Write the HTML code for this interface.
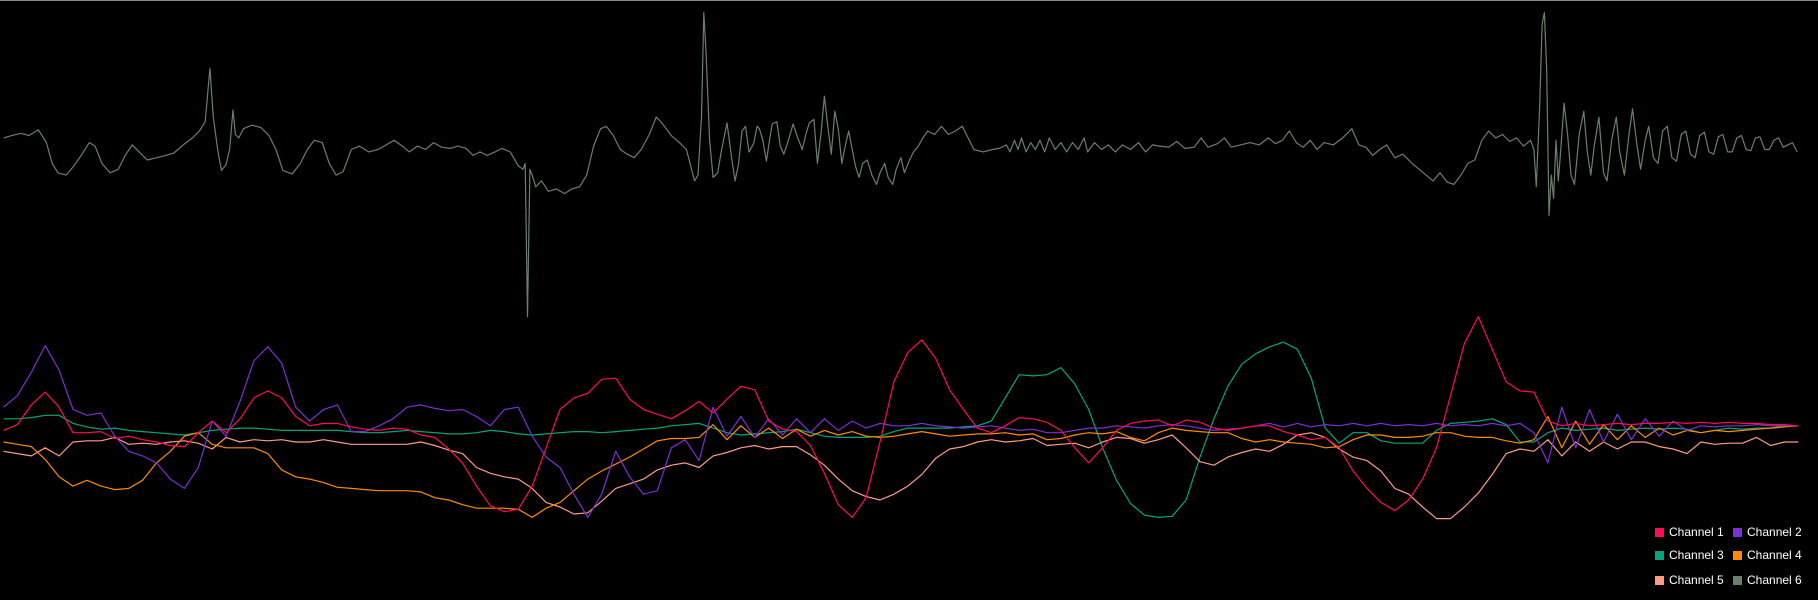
<!DOCTYPE html>
<html><head><meta charset="utf-8"><style>
html,body{margin:0;padding:0;background:#000;}
#wrap{position:relative;width:1818px;height:600px;background:#000;overflow:hidden;border-top:1px solid #8a8a8a;box-sizing:border-box;}
svg{position:absolute;left:0;top:0;}
.leg{position:absolute;font:12px "Liberation Sans",sans-serif;color:#fff;white-space:nowrap;line-height:14px;}
.sw{display:inline-block;width:9px;height:9px;margin-right:5px;vertical-align:-1px;}
</style></head><body>
<div id="wrap">
<svg id="chart" width="1818" height="600"></svg>
<div class="leg" style="left:1655px;top:524px"><span class="sw" style="background:#ff0a54"></span>Channel 1</div>
<div class="leg" style="left:1733px;top:524px"><span class="sw" style="background:#7b2fd6"></span>Channel 2</div>
<div class="leg" style="left:1655px;top:547px"><span class="sw" style="background:#00a77a"></span>Channel 3</div>
<div class="leg" style="left:1733px;top:547px"><span class="sw" style="background:#ff8a00"></span>Channel 4</div>
<div class="leg" style="left:1655px;top:572px"><span class="sw" style="background:#ff9a86"></span>Channel 5</div>
<div class="leg" style="left:1733px;top:572px"><span class="sw" style="background:#6b7f6e"></span>Channel 6</div>
</div>
<script>
const ch1Values=[0,5,22,33,20,-2,-2,-1,-7,-5,-8,-10,-13,-14,-2,8,-2,10,28,34,28,12,4,6,6,3,1,0,2,1,-4,-6,-16,-28,-48,-65,-70,-68,-48,-15,18,28,32,44,45,27,18,14,10,17,25,15,27,38,35,8,1,-1,-13,-37,-64,-75,-58,-10,42,67,78,62,35,18,2,-2,4,11,10,7,0,-15,-28,-15,0,6,8,9,4,9,7,2,0,2,4,4,-1,-4,-8,-6,-15,-35,-50,-62,-69,-60,-42,-15,30,75,98,70,42,34,33,8,4,6,4,5,6,5,6,6,7,6,7,6,7,6,6,5,5,4];
const ch2Values=[20,30,50,73,52,18,13,15,-5,-18,-22,-28,-42,-50,-32,8,-5,25,60,72,58,20,8,18,22,-1,-1,4,10,20,22,19,17,18,12,4,18,20,-5,-23,-32,-55,-75,-55,-18,-40,-55,-52,-15,-8,-26,20,-5,12,-6,10,-4,10,-2,10,0,8,2,6,4,4,6,4,3,2,3,4,2,0,1,-2,-2,0,2,2,4,3,2,4,5,4,2,0,1,2,4,6,3,6,3,5,4,6,4,6,4,5,4,6,4,5,4,6,4,6,-2,-28,20,-15,18,-10,14,-8,10,-5,8,0,4,3,4,4,5,4,4,4];
const ch3Values=[10,10,11,13,13,6,3,1,2,0,-1,-2,-3,-4,-2,0,1,2,2,1,0,0,0,0,0,-1,-2,-2,-1,0,-1,-2,-3,-3,-2,0,-1,-3,-4,-3,-2,-1,-1,-2,-1,0,1,2,4,5,6,2,-2,-4,-3,-2,-1,1,-2,-5,-6,-6,-6,-5,-1,2,2,2,2,3,4,8,28,48,47,48,54,40,18,-15,-43,-63,-73,-75,-74,-60,-23,10,38,57,66,72,76,70,45,2,-11,-2,-2,-9,-11,-11,-11,0,6,7,8,10,5,-10,-10,-2,2,0,1,2,0,1,2,1,2,1,-2,0,2,1,2,2,4,4];
const ch4Values=[-10,-12,-14,-25,-40,-48,-43,-48,-51,-50,-43,-28,-18,-5,-2,-12,-15,-15,-15,-20,-34,-40,-42,-45,-49,-50,-51,-52,-52,-52,-53,-58,-60,-64,-67,-67,-67,-68,-75,-67,-62,-52,-42,-35,-29,-23,-16,-9,-7,-7,-6,5,-8,4,-6,2,-7,1,-5,0,-4,-1,-5,-6,-5,-3,-1,-3,-5,-4,-3,-3,-2,-4,-3,-8,-7,-4,-2,-3,-1,-6,-9,-2,2,0,-1,-2,-2,-7,-10,-8,-10,-11,-12,-15,-14,-8,-4,-4,-6,-6,-5,-2,-2,-5,-6,-6,-9,-11,-8,12,-15,8,-12,5,-8,4,-6,2,-4,0,-2,0,-1,0,1,2,3,4];
const ch5Values=[-18,-20,-22,-15,-22,-10,-9,-9,-6,-12,-11,-12,-10,-9,-11,-16,-6,-10,-8,-9,-8,-10,-10,-8,-10,-12,-12,-12,-12,-12,-10,-13,-17,-20,-32,-37,-40,-42,-50,-62,-66,-72,-71,-61,-50,-46,-42,-34,-30,-28,-32,-22,-19,-15,-13,-16,-14,-14,-21,-30,-42,-52,-57,-60,-55,-48,-38,-24,-16,-14,-10,-8,-10,-9,-7,-13,-12,-11,-15,-10,-6,-7,-11,-8,-4,-15,-27,-30,-23,-19,-16,-18,-12,-4,-2,-6,-16,-23,-26,-35,-50,-55,-66,-76,-76,-66,-54,-38,-20,-16,-18,-8,-22,-10,-18,-10,-16,-10,-10,-14,-16,-20,-10,-12,-11,-11,-6,-13,-10,-10];
const ch6Times=[3,10,18,25,33,40,45,50,57,63,70,77,82,88,95,102,108,114,120,127,135,143,150,158,166,172,177,181,184,188,191,195,198,201,203,206,210,217,225,232,238,244,252,259,265,271,278,284,290,296,303,310,318,326,333,340,347,353,360,367,374,381,388,395,402,408,414,420,427,433,440,447,451,453,455,457,459,462,467,473,480,487,493,500,506,512,518,523,529,535,541,547,553,560,566,569,573,579,586,592,596,599,602,605,607,609,612,615,619,622,627,631,634,637,640,643,646,650,653,655,658,661,664,666,670,673,676,680,684,688,692,695,698,702,705,708,711,714,717,720,723,726,729,732,735,738,741,744,748,752,756,759,763,766,770,773,777,780,784,788,792,796,800,806,812,818,824,830,836,840,848,856,862,868,871,875,878,881,885,889,893,897,901,905,910,915,920,925,930,935,938,944,950,956,962,968,975,982,988,994,1000,1008,1015,1022,1030,1036,1042,1050,1056,1062,1070,1078,1086,1094,1100,1106,1112,1118,1124,1130,1136,1142,1150,1158,1166,1172,1178,1184,1190,1196,1203,1210,1218,1224,1230,1236,1242,1248,1254,1260,1266,1272,1278,1284,1290,1296,1302,1308,1314,1320,1323,1325,1328,1330,1332,1334,1336,1338,1340,1342,1344,1346,1349,1352,1355,1358,1362,1366,1369,1372,1375,1379,1383,1386,1390,1394,1397,1401,1405,1408,1412,1415,1419,1422,1426,1430,1434,1438,1442,1446,1450,1454,1458,1462,1466,1470,1474,1478,1482,1486,1490,1494,1498,1502,1506,1510,1514,1518,1522,1526,1530,1534,1538,1542,1546,1550];
const ch6Values=[2,4,6,4,9,-2,-20,-28,-30,-23,-13,-2,-5,-20,-28,-25,-13,-4,-10,-17,-15,-13,-11,-4,2,8,16,62,20,-10,-26,-21,-8,26,5,2,10,13,11,4,-8,-26,-29,-20,-8,0,-2,-20,-30,-27,-8,-5,-10,-8,-4,0,-5,-10,-5,-8,-2,-6,-7,-5,-7,-13,-10,-13,-10,-7,-10,-22,-25,-20,-152,-25,-30,-40,-35,-44,-42,-46,-42,-40,-30,-5,10,12,4,-8,-12,-15,-8,5,20,17,12,4,-2,-8,-23,-35,-30,20,110,75,0,-32,-28,-10,15,-15,-35,-20,8,12,-10,-3,12,10,0,-18,2,14,16,-5,-12,0,14,2,-8,5,15,18,-20,5,38,12,-12,25,10,-20,-5,8,-8,-23,-32,-20,-17,-30,-38,-28,-20,-32,-38,-25,-15,-28,-18,-10,-5,2,8,5,12,5,8,12,0,-8,-10,-8,-7,-4,-10,0,-8,2,-10,-2,-8,0,-10,2,-8,-2,-10,-2,-8,2,-10,-2,-8,-4,-10,-4,-8,-2,-10,-4,-5,-6,-1,-7,-6,2,-6,-3,2,-6,-4,-2,-4,2,-3,0,8,-2,-6,0,-8,-2,-4,2,10,-4,-6,-13,-8,-4,-15,-12,-20,-25,-30,-35,-28,-36,-38,-30,-20,-17,0,8,2,5,-1,2,-5,0,-8,-40,30,100,110,60,-65,-30,-50,0,-35,-10,32,5,-30,-38,5,25,-10,-30,-5,20,-28,-35,0,20,-10,-30,5,27,-5,-25,0,12,-15,-20,8,12,-15,-18,5,8,-12,-15,4,7,-10,-12,3,5,-10,-10,2,4,-8,-9,2,3,-8,-8,0,2,-6,-4,-2,-10];

const SX=1818/1568, SY=600/517;
const sampleStep=12, sampleStart=3;
function xScale(t){return t*SX;}
function yBottom(v){return (370-v)*SY;}
function yTop(v){return (120-v)*SY;}
const svg=document.getElementById('chart');
const NS='http://www.w3.org/2000/svg';
function addLine(times,vals,yf,color,name){
  let d='';
  for(let i=0;i<vals.length;i++){d+=(i?'L':'M')+xScale(times[i]).toFixed(1)+' '+yf(vals[i]).toFixed(1);}
  const p=document.createElementNS(NS,'path');
  p.setAttribute('d',d);p.setAttribute('fill','none');p.setAttribute('stroke',color);
  p.setAttribute('stroke-width','1.2');p.setAttribute('stroke-linejoin','round');
  
  
  svg.appendChild(p);
}
function uniformTimes(n){const a=[];for(let i=0;i<n;i++)a.push(sampleStart+i*sampleStep);return a;}
addLine(uniformTimes(ch3Values.length),ch3Values,yBottom,'#00a77a','channel-3-line');
addLine(uniformTimes(ch5Values.length),ch5Values,yBottom,'#ff9a86','channel-5-line');
addLine(uniformTimes(ch4Values.length),ch4Values,yBottom,'#ff8a00','channel-4-line');
addLine(uniformTimes(ch2Values.length),ch2Values,yBottom,'#7b2fd6','channel-2-line');
addLine(uniformTimes(ch1Values.length),ch1Values,yBottom,'#ff0a54','channel-1-line');
addLine(ch6Times,ch6Values,yTop,'#6b7f6e','channel-6-line');
</script>
</body></html>
